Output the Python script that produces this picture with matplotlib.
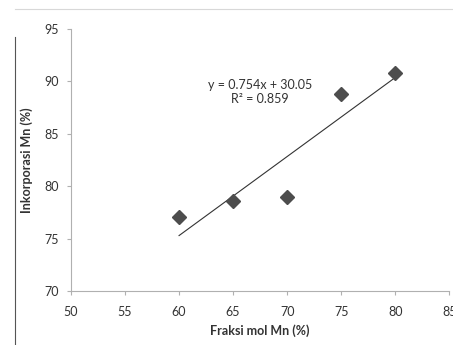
import numpy as np
import matplotlib.pyplot as plt
from matplotlib.lines import Line2D

plt.rcParams['font.family'] = ['Lato', 'DejaVu Sans']

# data
fraksi = [60, 65, 70, 75, 80]
inkorporasi = [77.1, 78.6, 79.0, 88.8, 90.8]
slope, intercept, r2 = 0.754, 30.05, 0.859
xticks = [50, 55, 60, 65, 70, 75, 80, 85]
yticks = [70, 75, 80, 85, 90, 95]

fig = plt.figure(figsize=(4.53, 3.45), dpi=100)
ax = fig.add_axes([0.1567, 0.1565, 0.835, 0.7594])

grey = '#4d4d4d'
ax.plot(fraksi, inkorporasi, 'D', color=grey, markersize=7, zorder=3)
xt = np.array([fraksi[0], fraksi[-1]])
ax.plot(xt, slope * xt + intercept, color='#333333', lw=0.8)

ax.text(67.5, 89.0, 'y = 0.754x + 30.05\nR² = 0.859', ha='center', va='center',
        fontsize=9, color='#333333', linespacing=1.25)

ax.set_xlim(50, 85)
ax.set_ylim(70, 95)
ax.set_xticks(xticks)
ax.set_yticks(yticks)
for s in ['top', 'right']:
    ax.spines[s].set_visible(False)
for s in ['left', 'bottom']:
    ax.spines[s].set_color('#b0b0b0')
    ax.spines[s].set_linewidth(0.8)
ax.tick_params(direction='out', length=3, color='#b0b0b0', labelsize=9,
               labelcolor='#333333', pad=6)
ax.tick_params(axis='x', pad=8)

ax.set_xlabel('Fraksi mol Mn (%)', fontsize=9, fontweight='bold', color='#333333', labelpad=4)
ax.set_ylabel('Inkorporasi Mn (%)', fontsize=9, fontweight='bold', color='#333333', labelpad=8)

# chart border fragments
fig.add_artist(Line2D([15 / 453, 1], [1 - 9 / 345, 1 - 9 / 345], transform=fig.transFigure,
                      color='#d8d8d8', lw=0.8))
fig.add_artist(Line2D([15 / 453, 15 / 453], [0, 1 - 37 / 345], transform=fig.transFigure,
                      color='#555555', lw=0.8))

fig.savefig('out.png', dpi=100)
